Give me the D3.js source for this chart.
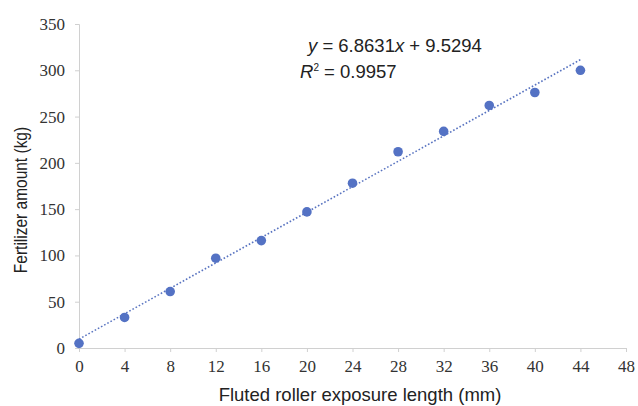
<!DOCTYPE html>
<html>
<head>
<meta charset="utf-8">
<script src="https://cdn.jsdelivr.net/npm/d3@7"></script>
<style>
  body { margin: 0; background: #fff; }
  .tick text { font-family: "Liberation Serif", "Times New Roman", serif; font-size: 17px; fill: #333; }
</style>
</head>
<body>
<svg id="chart" width="638" height="406"></svg>
<script>
// exposure length (mm) and fertilizer amount (kg)
var lengths = [0, 4, 8, 12, 16, 20, 24, 28, 32, 36, 40, 44];
var amounts = [5, 33, 61, 97, 116, 147, 178, 212, 234, 262, 276, 300];
var xTicks = [0, 4, 8, 12, 16, 20, 24, 28, 32, 36, 40, 44, 48];
var yTicks = [0, 50, 100, 150, 200, 250, 300, 350];
var slope = 6.8631, intercept = 9.5294, r2 = "0.9957";

var margin = {top: 24, right: 12, bottom: 58, left: 79},
    width = 638 - margin.left - margin.right,
    height = 406 - margin.top - margin.bottom;

var svg = d3.select("#chart");
var chart = svg.append("g").attr("transform", "translate(" + margin.left + "," + margin.top + ")");

// scales
var x = d3.scaleLinear().domain([0, 48]).range([0, 547]);
var y = d3.scaleLinear().domain([0, 350]).range([height, 0]);

// axes
chart.append("g")
    .attr("transform", "translate(0," + height + ")")
    .call(d3.axisBottom(x).tickValues(xTicks).tickSize(4).tickPadding(8));
chart.append("g")
    .call(d3.axisLeft(y).tickValues(yTicks).tickSize(4).tickPadding(10));
chart.selectAll(".domain, .tick line").attr("stroke", "#d0d0d0");

// trend line
var line = d3.line()
    .x(function(d) { return x(d); })
    .y(function(d) { return y(slope * d + intercept); });
chart.append("path")
    .attr("d", line([0, 44]))
    .attr("fill", "none")
    .attr("stroke", "#5873c0")
    .attr("stroke-width", 1.6)
    .attr("stroke-dasharray", "1.6,2");

// points
chart.selectAll("circle")
    .data(lengths)
    .enter().append("circle")
    .attr("cx", function(d) { return x(d); })
    .attr("cy", function(d, i) { return y(amounts[i]); })
    .attr("r", 4.8)
    .attr("fill", "#5472c4");

// axis titles
svg.append("text")
    .attr("x", 360).attr("y", 401)
    .attr("text-anchor", "middle")
    .style("font-family", "Liberation Sans, Arial, sans-serif")
    .style("font-size", "18.5px").style("fill", "#222")
    .text("Fluted roller exposure length (mm)");

svg.append("text")
    .attr("transform", "translate(27,200) rotate(-90) scale(1,1.15)")
    .attr("text-anchor", "middle")
    .style("font-family", "Liberation Sans, Arial, sans-serif")
    .style("font-size", "15.5px").style("fill", "#222")
    .text("Fertilizer amount (kg)");

// equation
var eq = svg.append("text")
    .attr("x", 308).attr("y", 52)
    .style("font-family", "Liberation Sans, Arial, sans-serif")
    .style("font-size", "18.5px").style("fill", "#222");
eq.append("tspan").style("font-style", "italic").text("y");
eq.append("tspan").text(" = " + slope + "");
eq.append("tspan").style("font-style", "italic").text("x");
eq.append("tspan").text(" + " + intercept);

var rt = svg.append("text")
    .attr("x", 300).attr("y", 78)
    .style("font-family", "Liberation Sans, Arial, sans-serif")
    .style("font-size", "18.5px").style("fill", "#222");
rt.append("tspan").style("font-style", "italic").text("R");
rt.append("tspan").attr("dy", -7).style("font-size", "10px").text("2");
rt.append("tspan").attr("dy", 7).text(" = " + r2);
</script>
</body>
</html>
